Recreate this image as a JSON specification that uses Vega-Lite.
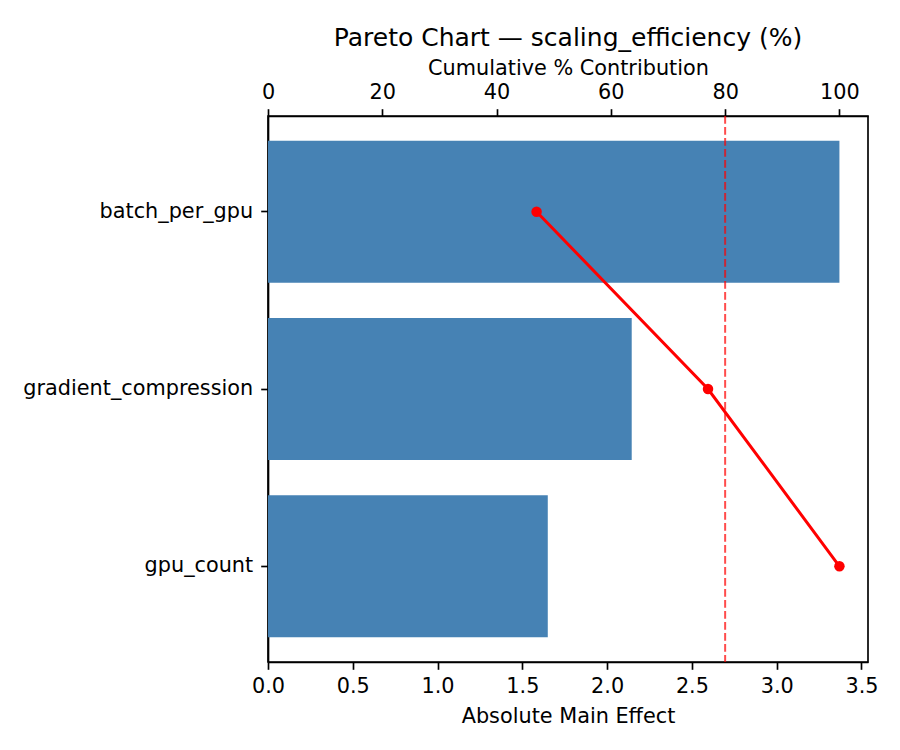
{
  "$schema": "https://vega.github.io/schema/vega-lite/v6.json",
  "width": 600,
  "height": 546,
  "autosize": {"type": "none"},
  "padding": {"left": 268, "top": 116, "right": 32, "bottom": 88},
  "title": {
    "text": "Pareto Chart — scaling_efficiency (%)",
    "font": "DejaVu Sans",
    "fontSize": 25,
    "fontWeight": "normal",
    "color": "black",
    "anchor": "middle",
    "baseline": "alphabetic",
    "offset": 0,
    "dy": 14
  },
  "data": {
    "values": [
      {"factor": "batch_per_gpu", "effect": 3.37, "cum": 47.0},
      {"factor": "gradient_compression", "effect": 2.145, "cum": 77.0},
      {"factor": "gpu_count", "effect": 1.65, "cum": 100.0}
    ]
  },
  "layer": [
    {
      "mark": {"type": "bar", "color": "#4682b4"},
      "encoding": {
        "y": {
          "field": "factor",
          "type": "nominal",
          "sort": null,
          "scale": {"paddingInner": 0.2, "paddingOuter": 0.14},
          "axis": {"title": null, "labelPadding": 8, "labelLimit": 400}
        },
        "x": {
          "field": "effect",
          "type": "quantitative",
          "scale": {"domain": [0, 3.5385], "nice": false, "zero": true},
          "axis": {
            "orient": "bottom",
            "values": [0, 0.5, 1, 1.5, 2, 2.5, 3, 3.5],
            "format": ".1f",
            "title": "Absolute Main Effect",
            "labelBaseline": "alphabetic",
            "labelPadding": 22.7,
            "titleBaseline": "alphabetic",
            "titleY": 60.7
          }
        }
      }
    },
    {
      "encoding": {
        "x": {
          "field": "cum",
          "type": "quantitative",
          "scale": {"domain": [0, 105], "nice": false},
          "axis": {
            "orient": "top",
            "values": [0, 20, 40, 60, 80, 100],
            "format": "d",
            "title": "Cumulative % Contribution",
            "labelBaseline": "alphabetic",
            "labelPadding": 10,
            "titleBaseline": "alphabetic",
            "titleY": -42
          }
        }
      },
      "layer": [
        {
          "data": {"values": [{"threshold": 80}]},
          "mark": {
            "type": "rule",
            "color": "red",
            "opacity": 0.7,
            "strokeWidth": 2,
            "strokeDash": [7.7, 3.3]
          },
          "encoding": {"x": {"field": "threshold", "type": "quantitative"}}
        },
        {
          "mark": {"type": "line", "color": "red", "strokeWidth": 3},
          "encoding": {
            "y": {"field": "factor", "type": "nominal", "sort": null, "bandPosition": 0.5}
          }
        },
        {
          "mark": {"type": "point", "shape": "circle", "filled": true, "color": "red", "opacity": 1, "size": 110},
          "encoding": {
            "y": {"field": "factor", "type": "nominal", "sort": null, "bandPosition": 0.5}
          }
        }
      ]
    }
  ],
  "resolve": {"scale": {"x": "independent"}, "axis": {"x": "independent"}},
  "config": {
    "font": "DejaVu Sans",
    "view": {"stroke": "black", "strokeWidth": 1.67},
    "axis": {
      "grid": false,
      "domainColor": "black",
      "domainWidth": 1.67,
      "tickColor": "black",
      "tickWidth": 1.67,
      "tickSize": 7.3,
      "labelFont": "DejaVu Sans",
      "labelFontSize": 20.8,
      "labelColor": "black",
      "labelLimit": 400,
      "titleFont": "DejaVu Sans",
      "titleFontSize": 20.8,
      "titleFontWeight": "normal",
      "titleColor": "black",
      "labelFlush": false,
      "labelOverlap": false
    }
  }
}
